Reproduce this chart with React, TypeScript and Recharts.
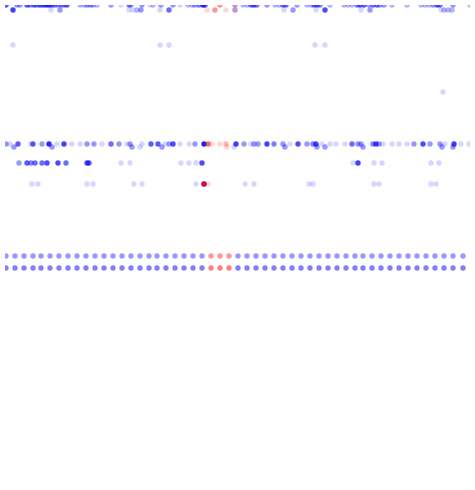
import { ScatterChart, Scatter, XAxis, YAxis } from 'recharts';

// each entry: [position, number of overlapping records]
type Pt = [number, number];

// row levels (vertical value of each band)
const LEVELS = { top: 5, second: 10, third: 45, fourth: 92, main: 144, mainJitter: 147, mid: 163, low: 184, weeklyA: 256, weeklyB: 268 };

const TOP_BLUE: Pt[] = [
  [6, 6], [17, 3], [20, 3], [27, 6], [30, 4], [34, 6], [37, 4], [40, 6], [43, 6], [46, 8], [49, 8], [52, 6], [55, 4],
  [58, 3], [61, 4], [64, 4], [67, 6], [80, 2], [84, 2], [87, 3], [90, 3], [93, 3], [97, 2], [111, 3], [121, 1],
  [129, 4], [131, 3], [142, 3], [150, 1], [153, 2], [161, 3], [173, 3], [180, 1], [188, 2], [192, 2], [195, 3],
  [199, 4], [203, 8], [205, 6], [235, 2], [243, 2], [247, 2], [251, 5], [254, 6], [257, 4], [267, 3], [275, 2],
  [279, 2], [283, 5], [286, 5], [297, 3], [307, 2], [311, 2], [314, 5], [317, 6], [320, 4], [330, 2], [344, 2],
  [348, 2], [352, 2], [357, 4], [360, 6], [364, 6], [369, 3], [373, 5], [377, 5], [380, 3], [384, 3], [392, 2],
  [407, 2], [421, 2], [425, 2], [429, 2], [433, 3], [437, 6], [440, 5], [453, 3], [470, 2],
];
const TOP_RED: Pt[] = [[220, 3], [235, 1]];

const SECOND_BLUE: Pt[] = [
  [13, 8], [51, 1], [60, 3], [129, 1], [133, 1], [137, 2], [141, 3], [160, 1], [169, 5], [235, 2],
  [284, 1], [293, 3], [316, 1], [325, 7], [361, 1], [370, 3], [441, 1], [444, 2], [448, 2], [452, 2],
];
const SECOND_RED: Pt[] = [[207, 1], [215, 3], [226, 1], [235, 1]];

const THIRD_BLUE: Pt[] = [[13, 1], [160, 1], [169, 1], [315, 1], [325, 1]];
const FOURTH_BLUE: Pt[] = [[443, 1]];

const MAIN_BLUE: Pt[] = [
  [6, 3], [10, 1], [18, 6], [31, 1], [33, 6], [42, 3], [49, 10], [57, 1], [64, 8], [72, 1], [80, 1], [87, 3],
  [94, 3], [102, 1], [111, 5], [119, 3], [127, 1], [130, 3], [142, 1], [151, 6], [158, 6], [165, 1], [169, 3],
  [173, 7], [180, 1], [189, 1], [195, 3], [204, 12], [236, 8], [244, 3], [251, 1], [254, 3], [258, 3], [267, 8],
  [274, 4], [283, 3], [290, 1], [298, 7], [307, 3], [313, 4], [316, 7], [322, 1], [330, 1], [336, 1], [345, 1],
  [352, 5], [358, 3], [361, 3], [373, 4], [376, 7], [379, 3], [383, 1], [392, 1], [399, 1], [407, 1], [414, 3],
  [423, 7], [430, 3], [440, 3], [445, 1], [454, 8], [461, 1], [469, 1],
];
const MAIN_JITTER_BLUE: Pt[] = [
  [14, 3], [52, 3], [132, 3], [140, 1], [162, 3], [234, 1], [285, 3], [317, 3], [325, 3], [363, 3], [442, 3], [453, 3],
];
const MAIN_RED: Pt[] = [[208, 5], [212, 1], [220, 1], [226, 2]];
const MAIN_JITTER_RED: Pt[] = [[227, 1]];

const MID_BLUE: Pt[] = [
  [19, 3], [27, 6], [31, 4], [35, 5], [42, 5], [47, 7], [58, 7], [66, 5], [87, 7], [89, 6], [121, 1], [130, 1],
  [181, 1], [189, 1], [196, 1], [202, 7], [353, 1], [358, 8], [374, 1], [382, 1], [431, 1], [439, 1],
];

const LOW_BLUE: Pt[] = [
  [32, 1], [38, 1], [87, 1], [93, 1], [134, 1], [142, 1], [196, 1], [204, 8], [245, 1], [254, 1], [309, 1],
  [313, 1], [374, 1], [379, 1], [431, 1], [436, 1],
];
const LOW_RED: Pt[] = [[204, 8], [208, 1]];

const WEEKS = [
  6, 15, 24, 33, 41, 50, 59, 68, 77, 86, 95, 104, 113, 122, 131, 140, 149, 157, 166, 175, 184, 193, 202,
  211, 220, 229, 238, 247, 256, 265, 274, 283, 292, 301, 310, 319, 328, 337, 346, 355, 363, 372, 381, 390,
  399, 408, 417, 426, 435, 444, 453, 463,
];
const FLAGGED_WEEKS = [211, 220, 229];
const WEEKLY_A_COUNT = 3;
const WEEKLY_B_COUNT = 4;

const toRows = (pts: Pt[], y: number) => pts.map(([x, n]) => ({ x, y, n }));

const blueData = [
  ...toRows(TOP_BLUE, LEVELS.top),
  ...toRows(SECOND_BLUE, LEVELS.second),
  ...toRows(THIRD_BLUE, LEVELS.third),
  ...toRows(FOURTH_BLUE, LEVELS.fourth),
  ...toRows(MAIN_BLUE, LEVELS.main),
  ...toRows(MAIN_JITTER_BLUE, LEVELS.mainJitter),
  ...toRows(MID_BLUE, LEVELS.mid),
  ...toRows(LOW_BLUE, LEVELS.low),
  ...WEEKS.filter(w => !FLAGGED_WEEKS.includes(w)).map(x => ({ x, y: LEVELS.weeklyA, n: WEEKLY_A_COUNT })),
  ...WEEKS.filter(w => !FLAGGED_WEEKS.includes(w)).map(x => ({ x, y: LEVELS.weeklyB, n: WEEKLY_B_COUNT })),
];

const redData = [
  ...toRows(TOP_RED, LEVELS.top),
  ...toRows(SECOND_RED, LEVELS.second),
  ...toRows(MAIN_RED, LEVELS.main),
  ...toRows(MAIN_JITTER_RED, LEVELS.mainJitter),
  ...toRows(LOW_RED, LEVELS.low),
  ...FLAGGED_WEEKS.map(x => ({ x, y: LEVELS.weeklyA, n: WEEKLY_A_COUNT })),
  ...FLAGGED_WEEKS.map(x => ({ x, y: LEVELS.weeklyB, n: WEEKLY_B_COUNT })),
];

const ALPHA = 0.16;
const opacityFor = (n: number) => 1 - Math.pow(1 - ALPHA, n);

const dot = (color: string) => (props: any) => (
  <circle cx={props.cx} cy={props.cy} r={2.7} fill={color} fillOpacity={opacityFor(props.payload.n)} />
);

export default function App() {
  return (
    <div style={{ width: 475, height: 490, background: '#fff' }}>
      <style>{'body{margin:0}'}</style>
      <ScatterChart width={475} height={490} margin={{ top: 5, right: 5, bottom: 5, left: 5 }}>
        <XAxis type="number" dataKey="x" domain={[5, 470]} allowDataOverflow hide />
        <YAxis type="number" dataKey="y" domain={[5, 485]} reversed allowDataOverflow hide />
        <Scatter data={blueData} shape={dot('#0000ff')} isAnimationActive={false} />
        <Scatter data={redData} shape={dot('#ff0000')} isAnimationActive={false} />
      </ScatterChart>
    </div>
  );
}
